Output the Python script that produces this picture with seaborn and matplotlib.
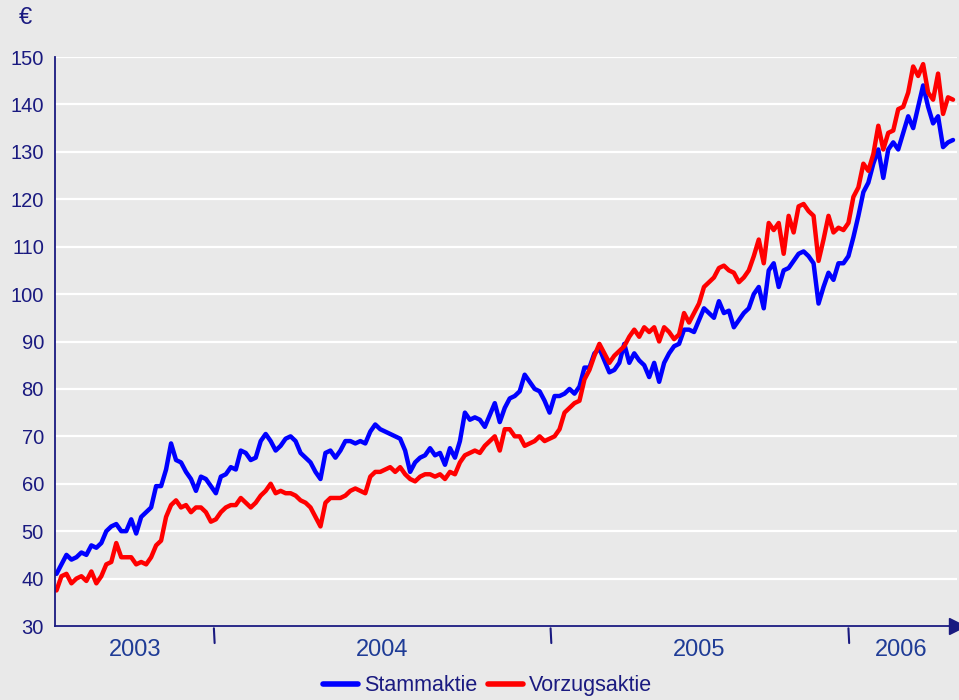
import numpy as np
import pandas as pd
import matplotlib
matplotlib.use("Agg")
import matplotlib.pyplot as plt
import seaborn as sns

stammaktie = [
    41, 43, 45, 44, 44.5, 45.5, 45, 47, 46.5, 47.5,
    50, 51, 51.5, 50, 50, 52.5, 49.5, 53, 54, 55,
    59.5, 59.5, 63, 68.5, 65, 64.5, 62.5, 61, 58.5, 61.5,
    61, 59.5, 58, 61.5, 62, 63.5, 63, 67, 66.5, 65,
    65.5, 69, 70.5, 69, 67, 68, 69.5, 70, 69, 66.5,
    65.5, 64.5, 62.5, 61, 66.5, 67, 65.5, 67, 69, 69,
    68.5, 69, 68.5, 71, 72.5, 71.5, 71, 70.5, 70, 69.5,
    67, 62.5, 64.5, 65.5, 66, 67.5, 66, 66.5, 64, 67.5,
    65.5, 69, 75, 73.5, 74, 73.5, 72, 74.5, 77, 73,
    76, 78, 78.5, 79.5, 83, 81.5, 80, 79.5, 77.5, 75,
    78.5, 78.5, 79, 80, 79, 80.5, 84.5, 84.5, 87.5, 88.5,
    86, 83.5, 84, 85.5, 89.5, 85.5, 87.5, 86, 85, 82.5,
    85.5, 81.5, 85.5, 87.5, 89, 89.5, 92.5, 92.5, 92, 94.5,
    97, 96, 95, 98.5, 96, 96.5, 93, 94.5, 96, 97,
    100, 101.5, 97, 105, 106.5, 101.5, 105, 105.5, 107, 108.5,
    109, 108, 106.5, 98, 101.5, 104.5, 103, 106.5, 106.5, 108,
    112, 116.5, 121.5, 123.5, 127.5, 130.5, 124.5, 130.5, 132, 130.5,
    134, 137.5, 135, 139.5, 144, 139.5, 136, 137.5, 131, 132,
    132.5,
]
vorzugsaktie = [
    37.5, 40.5, 41, 39, 40, 40.5, 39.5, 41.5, 39, 40.5,
    43, 43.5, 47.5, 44.5, 44.5, 44.5, 43, 43.5, 43, 44.5,
    47, 48, 53, 55.5, 56.5, 55, 55.5, 54, 55, 55,
    54, 52, 52.5, 54, 55, 55.5, 55.5, 57, 56, 55,
    56, 57.5, 58.5, 60, 58, 58.5, 58, 58, 57.5, 56.5,
    56, 55, 53, 51, 56, 57, 57, 57, 57.5, 58.5,
    59, 58.5, 58, 61.5, 62.5, 62.5, 63, 63.5, 62.5, 63.5,
    62, 61, 60.5, 61.5, 62, 62, 61.5, 62, 61, 62.5,
    62, 64.5, 66, 66.5, 67, 66.5, 68, 69, 70, 67,
    71.5, 71.5, 70, 70, 68, 68.5, 69, 70, 69, 69.5,
    70, 71.5, 75, 76, 77, 77.5, 82, 84, 87, 89.5,
    87.5, 85.5, 87, 88, 89, 91, 92.5, 91, 93, 92,
    93, 90, 93, 92, 90.5, 91.5, 96, 94, 96, 98,
    101.5, 102.5, 103.5, 105.5, 106, 105, 104.5, 102.5, 103.5, 105,
    108, 111.5, 106.5, 115, 113.5, 115, 108.5, 116.5, 113, 118.5,
    119, 117.5, 116.5, 107, 111.5, 116.5, 113, 114, 113.5, 115,
    120.5, 122.5, 127.5, 126, 129.5, 135.5, 130.5, 134, 134.5, 139,
    139.5, 142.5, 148, 146, 148.5, 142.5, 141, 146.5, 138, 141.5,
    141,
]
jahre = ["2003", "2004", "2005", "2006"]
jahresgrenzen = [31.6, 99.2, 159]   # Trennstriche zwischen den Jahren (Index)
y_ticks = list(range(30, 151, 10))

navy = "#1a1a80"
label_blue = "#1f3c96"
bg = "#e9e9e9"

n = len(stammaktie)
df = pd.DataFrame({
    "t": list(range(n)) * 2,
    "kurs": stammaktie + vorzugsaktie,
    "serie": ["Stammaktie"] * n + ["Vorzugsaktie"] * n,
})

sns.set_style("white")
plt.rcParams["font.family"] = ["Liberation Sans", "DejaVu Sans"]

fig = plt.figure(figsize=(9.59, 7.0), dpi=100, facecolor=bg)
ax = fig.add_axes([55 / 959, 1 - 626 / 700, (957 - 55) / 959, (626 - 57) / 700])
ax.set_facecolor(bg)

sns.lineplot(data=df, x="t", y="kurs", hue="serie",
             palette={"Stammaktie": "#0000ff", "Vorzugsaktie": "#ff0000"},
             linewidth=3.2, ax=ax)

ax.set_xlim(-0.3, n - 0.2)
ax.set_ylim(30, 150)
ax.set_yticks(y_ticks)
ax.yaxis.grid(True, color="white", linewidth=1.6)
ax.set_axisbelow(True)

for s in ["top", "right"]:
    ax.spines[s].set_visible(False)
ax.spines["left"].set_color(navy)
ax.spines["bottom"].set_color(navy)
ax.spines["left"].set_linewidth(1.3)
ax.spines["bottom"].set_linewidth(1.3)

ax.tick_params(axis="y", colors=navy, labelsize=14.5, length=4, width=1.3, pad=4)

# Jahresbeschriftung mittig zwischen den Trennstrichen
kanten = [0] + jahresgrenzen + [n - 1]
mitten = [(a + b) / 2 for a, b in zip(kanten[:-1], kanten[1:])]
ax.set_xticks(mitten)
ax.set_xticklabels(jahre)
ax.tick_params(axis="x", length=0, labelsize=17, labelcolor=label_blue, pad=9)
ax.set_xlabel("")
ax.set_ylabel("")

trans = ax.get_xaxis_transform()
for g in jahresgrenzen:
    ax.plot([g, g + 0.15], [-0.004, -0.03], color=navy, lw=1.5,
            transform=trans, clip_on=False)

# Pfeil am Ende der x-Achse
ax.plot(1.0, 0, marker=">", color=navy, markersize=12,
        transform=ax.transAxes, clip_on=False)

fig.text(25 / 959, 1 - 18 / 700, "€", color=navy, fontsize=17,
         ha="center", va="center")

ax.legend(loc="center", bbox_to_anchor=(0.48, -0.105), ncol=2, frameon=False,
          fontsize=15.5, handlelength=1.6, handletextpad=0.3,
          columnspacing=0.5, labelcolor=navy)
for line in ax.get_legend().get_lines():
    line.set_linewidth(4)

fig.savefig("out.png", dpi=100, facecolor=bg)
